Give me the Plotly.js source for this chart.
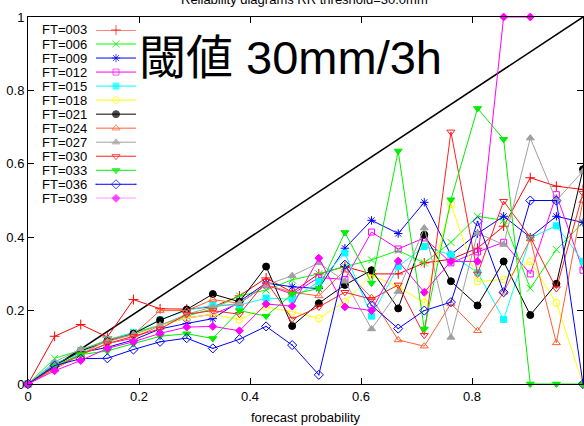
<!DOCTYPE html>
<html><head><meta charset="utf-8">
<script src="https://cdn.plot.ly/plotly-3.0.1.min.js"></script>
<style>html,body{margin:0;padding:0;background:#fff}#chart{width:584px;height:426px}</style>
</head><body><div id="chart"></div>
<script>
// forecast probability bins
const probability = [0, 0.048, 0.095, 0.143, 0.19, 0.238, 0.286, 0.333, 0.381, 0.429, 0.476, 0.524, 0.571, 0.619, 0.667, 0.714, 0.762, 0.81, 0.857, 0.905, 0.952, 1];
const seriesNames = ["FT=003","FT=006","FT=009","FT=012","FT=015","FT=018","FT=021","FT=024","FT=027","FT=030","FT=033","FT=036","FT=039"];
const ft003 = [0, .13, .162, .128, .23, .205, .204, .21, .24, .289, .25, .30, .32, .30, .30, .33, .34, .37, .43, .562, .539, .53];
const ft006 = [0, .07, .092, .12, .14, .16, .185, .205, .24, .256, .284, .30, .32, .338, .364, .33, .386, .457, .446, .261, .366, .44];
const ft009 = [0, .055, .085, .1, .12, .15, .165, .178, .225, .275, .265, .26, .37, .446, .41, .495, .352, .41, .457, .40, .457, .44];
const ft012 = [0, .05, .08, .11, .125, .16, .18, .19, .22, .27, .245, .29, .285, .414, .368, .398, .33, .36, .386, .30, .516, .31];
const ft015 = [0, .055, .085, .12, .14, .175, .2, .215, .215, .234, .231, .279, .357, .185, .32, .375, .352, .304, .176, .398, .431, .334];
const ft018 = [0, .05, .08, .11, .13, .16, .18, .19, .175, .21, .197, .179, .224, .297, .265, .221, .49, .279, .285, .334, .221, 0];
const ft021 = [0, .05, .09, .117, .137, .174, .203, .245, .224, .32, .158, .22, .27, .31, .206, .407, .28, .214, .334, .188, .273, .585];
const ft024 = [0, .04, .08, .12, .135, .2, .2, .23, .22, .27, .25, .24, .31, .235, .12, .103, .219, .145, .25, .395, .112, .5];
const ft027 = [0, .06, .095, .115, .135, .16, .19, .21, .22, .27, .295, .33, .28, .15, .252, .425, .127, .411, .38, .67, .5, .58];
const ft030 = [0, .045, .08, .11, .13, .15, .19, .2, .19, .28, .177, .21, .25, .231, .27, .133, .687, .3, .498, .4, .26, .52];
const ft033 = [0, .05, .08, .09, .11, .13, .137, .124, .2, .185, .245, .26, .413, .275, .635, .15, .502, .751, .667, 0, 0, 0];
const ft036 = [0, .05, .069, .07, .094, .115, .125, .097, .122, .157, .106, .025, .325, .214, .151, .2, .223, .443, .25, .5, .5, 0];
const ft039 = [0, .036, .064, .097, .115, .138, .155, .157, .145, .218, .212, .343, .21, .2, .335, .25, .334, .334, 1, 1, null, null];
const perfectX = [0, 1];
const perfectY = [0, 1];
const xTicks = [0, 0.2, 0.4, 0.6, 0.8, 1];
const xTickText = ["0", "0.2", "0.4", "0.6", "0.8", "1"];
const yTicks = [0, 0.2, 0.4, 0.6, 0.8, 1];
const yTickText = ["0", "0.2", "0.4", "0.6", "0.8", "1"];

const series = [ft003, ft006, ft009, ft012, ft015, ft018, ft021, ft024, ft027, ft030, ft033, ft036, ft039];
const styles = [
  {color:'#ff0000', symbol:'cross-thin-open', size:7},
  {color:'#00ff00', symbol:'x-thin-open', size:7},
  {color:'#0000ff', symbol:'asterisk-open', size:7},
  {color:'#ff00ff', symbol:'square-open', size:6},
  {color:'#00ffff', symbol:'square', size:6},
  {color:'#ffff00', symbol:'circle-open', size:7},
  {color:'#000000', symbol:'circle', size:7},
  {color:'#ff6030', symbol:'triangle-up-open', size:7},
  {color:'#a0a0a0', symbol:'triangle-up', size:7},
  {color:'#ff2020', symbol:'triangle-down-open', size:7},
  {color:'#00ee00', symbol:'triangle-down', size:7},
  {color:'#0000ff', symbol:'diamond-open-dot', size:7},
  {color:'#ff00ff', symbol:'diamond', size:6}
];

const FONT = 'Liberation Sans, Arial, sans-serif';
const traces = [{
  x: perfectX, y: perfectY, mode: 'lines', line: {color: '#000000', width: 1.5},
  hoverinfo: 'skip', showlegend: false
}];
series.forEach((ys, k) => {
  const s = styles[k];
  traces.push({
    x: probability, y: ys, name: seriesNames[k], mode: 'lines+markers',
    line: {color: s.color, width: 1},
    marker: {symbol: s.symbol, size: s.size, color: s.color, line: {color: s.color, width: 1}},
    cliponaxis: false, connectgaps: false, showlegend: false
  });
});
// legend samples drawn on a small helper axis pair
seriesNames.forEach((name, k) => {
  const s = styles[k];
  traces.push({
    x: [0, 0.5, 1], y: [k, k, k], xaxis: 'x2', yaxis: 'y2', mode: 'lines+markers',
    line: {color: s.color, width: 1},
    marker: {symbol: s.symbol, size: [0, s.size, 0], color: s.color, line: {color: s.color, width: 1}},
    cliponaxis: false, showlegend: false, hoverinfo: 'skip'
  });
});

const annotations = seriesNames.map((name, k) => ({
  text: name, xref: 'paper', yref: 'y2', x: 0.0216, y: k, xanchor: 'left', yanchor: 'middle',
  showarrow: false, font: {family: FONT, size: 13, color: '#000'}
}));
annotations.push({
  text: 'Reliability diagrams RR threshold=30.0mm', xref: 'paper', yref: 'paper', x: 0.498, y: 1.049,
  xanchor: 'center', yanchor: 'middle', showarrow: false, font: {family: FONT, size: 13, color: '#000'}
});
annotations.push({
  text: '閾値 30mm/3h', xref: 'paper', yref: 'paper', x: 0.196, y: 0.889,
  xanchor: 'left', yanchor: 'middle', showarrow: false,
  font: {family: "Liberation Sans, 'Noto Sans CJK JP', sans-serif", size: 47, color: '#000'}
});

const layout = {
  width: 584, height: 426,
  margin: {l: 28, r: 1, t: 17, b: 42},
  paper_bgcolor: '#ffffff', plot_bgcolor: 'rgba(0,0,0,0)',
  font: {family: FONT, size: 13, color: '#000'},
  showlegend: false,
  xaxis: {
    range: [0, 1], tickvals: xTicks, ticktext: xTickText, ticks: 'inside', ticklen: 6,
    tickcolor: '#000', showline: true, linecolor: '#000', linewidth: 1, mirror: 'ticks',
    showgrid: false, zeroline: false, tickfont: {family: FONT, size: 13, color: '#000'},
    title: {text: 'forecast probability', font: {family: FONT, size: 13, color: '#000'}, standoff: 10}
  },
  yaxis: {
    range: [0, 1], tickvals: yTicks, ticktext: yTickText, ticks: 'inside', ticklen: 6,
    tickcolor: '#000', showline: true, linecolor: '#000', linewidth: 1, mirror: 'ticks',
    showgrid: false, zeroline: false, tickfont: {family: FONT, size: 13, color: '#000'}
  },
  xaxis2: {domain: [0.1225, 0.1946], range: [0, 1], anchor: 'y2', visible: false, fixedrange: true},
  yaxis2: {domain: [0.506, 0.9646], range: [12, 0], anchor: 'x2', visible: false, fixedrange: true},
  annotations: annotations
};

Plotly.newPlot('chart', traces, layout, {staticPlot: true, displayModeBar: false});
</script>
</body></html>
